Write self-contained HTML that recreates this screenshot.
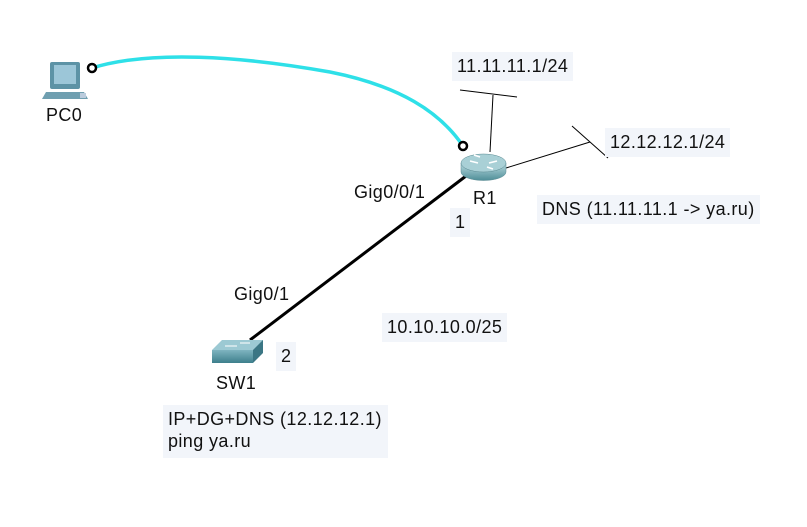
<!DOCTYPE html>
<html><head><style>
body{margin:0;width:807px;height:527px;background:#fff;overflow:hidden;position:relative;font-family:"Liberation Sans",sans-serif;font-size:18px;letter-spacing:0.4px;color:#111}
.b{position:absolute;background:#f2f5fa;padding:0 5px;line-height:29px}
.t{position:absolute;line-height:20px}
svg{position:absolute;left:0;top:0}
</style></head><body>
<svg width="807" height="527">
<defs>
<linearGradient id="rg" x1="0" y1="0" x2="0" y2="1"><stop offset="0" stop-color="#b9dbe0"/><stop offset="1" stop-color="#4f8e98"/></linearGradient>
<linearGradient id="sg" x1="0" y1="0" x2="0" y2="1"><stop offset="0" stop-color="#7fb4c0"/><stop offset="1" stop-color="#3d7f8c"/></linearGradient>
</defs>
<path d="M92,68 C150,50 240,56 330,72 C400,86 440,112 463,146" stroke="#2ee0e8" stroke-width="3.5" fill="none"/>
<line x1="466" y1="176" x2="250" y2="340" stroke="#000" stroke-width="3"/>
<line x1="490" y1="152" x2="493" y2="95" stroke="#000" stroke-width="1"/>
<line x1="460" y1="90" x2="517" y2="97" stroke="#000" stroke-width="1"/>
<line x1="506" y1="168" x2="590" y2="142" stroke="#000" stroke-width="1"/>
<line x1="572" y1="126" x2="608" y2="158" stroke="#000" stroke-width="1"/>
<path d="M461,163 v9 a22.5,8.5 0 0 0 45,0 v-9 z" fill="url(#rg)" stroke="#5a8a92" stroke-width="0.5"/>
<ellipse cx="483.5" cy="163" rx="22.5" ry="9" fill="#a9d0d6" stroke="#5a8a92" stroke-width="0.5"/>
<path d="M470,161 l8,2 M497,161 l-8,2 M480,157 l-6,-2 M487,167 l6,2" stroke="#fff" stroke-width="1.5"/>
<circle cx="92" cy="68" r="4" fill="#fff" stroke="#000" stroke-width="2.5"/>
<circle cx="463" cy="146" r="4" fill="#fff" stroke="#000" stroke-width="2.5"/>
<rect x="50" y="62" width="30" height="27" rx="2" fill="#5d93a6"/>
<rect x="54" y="65" width="22" height="19" fill="#9cc6d8"/>
<polygon points="46,92 84,92 88,99 42,99" fill="#6f9fb0"/>
<rect x="80" y="93" width="6" height="5" fill="#bcd" />
<polygon points="212,350 222,340 263,340 263,350" fill="#9cc9d3"/>
<rect x="212" y="350" width="41" height="13" fill="url(#sg)"/>
<polygon points="253,350 263,340 263,353 253,363" fill="#3b7684"/>
<path d="M225,346 h12 M240,343 h10" stroke="#fff" stroke-width="1"/>
</svg>
<div class="t" style="left:46px;top:105px">PC0</div>
<div class="t" style="left:473px;top:188px">R1</div>
<div class="t" style="left:216px;top:373px">SW1</div>
<div class="t" style="left:354px;top:182px">Gig0/0/1</div>
<div class="t" style="left:234px;top:284px">Gig0/1</div>
<div class="b" style="left:452px;top:52px">11.11.11.1/24</div>
<div class="b" style="left:605px;top:128px">12.12.12.1/24</div>
<div class="b" style="left:537px;top:195px">DNS (11.11.11.1 -&gt; ya.ru)</div>
<div class="b" style="left:450px;top:208px">1</div>
<div class="b" style="left:276px;top:342px">2</div>
<div class="b" style="left:382px;top:313px">10.10.10.0/25</div>
<div class="b" style="left:163px;top:405px;line-height:22px;padding:3px 6px 6px 5px">IP+DG+DNS (12.12.12.1)<br>ping ya.ru</div>
</body></html>
